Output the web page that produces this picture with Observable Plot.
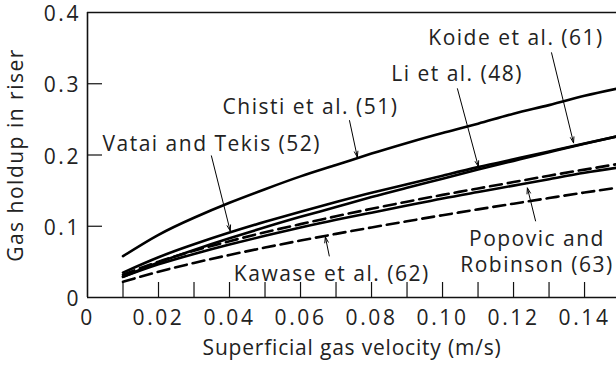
<!DOCTYPE html>
<html><head><meta charset="utf-8">
<script src="https://cdn.jsdelivr.net/npm/d3@7"></script>
<script src="https://cdn.jsdelivr.net/npm/@observablehq/plot@0.6"></script>
<style>
body{margin:0;background:#fff}
#chart svg{display:block}
#chart svg text{letter-spacing:1.5px}
#chart svg g[aria-label="x-axis label"] text{letter-spacing:0.8px}
#chart svg g[aria-label="x-axis tick label"] text,
#chart svg g[aria-label="y-axis tick label"] text{letter-spacing:2.6px}
</style>
</head><body><div id="chart"></div>
<script>
// Superficial gas velocity (m/s)
const velocity = [0.01,0.02,0.03,0.04,0.05,0.06,0.07,0.08,0.09,0.10,0.11,0.12,0.13,0.14,0.149];
// Gas holdup in riser
const chisti  = [0.058,0.088,0.112,0.133,0.152,0.170,0.186,0.202,0.217,0.231,0.244,0.258,0.270,0.283,0.293];
const li      = [0.035,0.0565,0.0747,0.0911,0.1063,0.1205,0.134,0.147,0.159,0.171,0.183,0.194,0.205,0.216,0.226];
const koide   = [0.029,0.0491,0.0668,0.0831,0.0985,0.1132,0.127,0.141,0.154,0.1668,0.1795,0.1917,0.204,0.2157,0.226];
const vatai   = [0.032,0.0503,0.0656,0.079,0.0916,0.103,0.114,0.1245,0.1345,0.144,0.153,0.162,0.171,0.1795,0.187];
const popovic = [0.029,0.0465,0.0612,0.0744,0.0866,0.0981,0.109,0.119,0.129,0.139,0.148,0.157,0.166,0.175,0.182];
const kawase  = [0.022,0.0362,0.0485,0.0597,0.0701,0.0799,0.0893,0.0983,0.107,0.1155,0.1237,0.1317,0.1396,0.1473,0.154];

const solidSeries = {chisti, li, koide, popovic};
const dashedSeries = {vatai, kawase};

// Axis ticks
const xTicks = [0.01,0.02,0.03,0.04,0.05,0.06,0.07,0.08,0.09,0.10,0.11,0.12,0.13,0.14];
const xLabels = [0,0.02,0.04,0.06,0.08,0.10,0.12,0.14];
const yTicks = [0.1,0.2,0.3];
const yLabels = [0,0.1,0.2,0.3,0.4];

// Annotation labels (data coordinates)
const labelText = ["Koide et al. (61)","Li et al. (48)","Chisti et al. (51)","Vatai and Tekis (52)","Kawase et al. (62)","Popovic and\nRobinson (63)"];
const labelX = [0.1207,0.1041,0.0628,0.0350,0.0688,0.1266];
const labelY = [0.366,0.3155,0.269,0.217,0.0344,0.0655];
// Annotation arrows: from label to curve
const arrowX1 = [0.1307,0.1042,0.0738,0.0349,0.0681,0.1262];
const arrowY1 = [0.3435,0.293,0.2483,0.1988,0.0583,0.1075];
const arrowX2 = [0.1369,0.1101,0.0760,0.0402,0.0670,0.1239];
const arrowY2 = [0.2171,0.1836,0.197,0.0935,0.085,0.1538];

const toRows = obj => Object.entries(obj).flatMap(([name, vals]) => vals.map((v,i) => ({series:name, x:velocity[i], y:v})));
const solidRows = toRows(solidSeries);
const dashedRows = toRows(dashedSeries);
const labels = labelText.map((t,i) => ({text:t, x:labelX[i], y:labelY[i]}));
const arrows = arrowX1.map((d,i) => ({x1:d, y1:arrowY1[i], x2:arrowX2[i], y2:arrowY2[i]}));

const FONT = "Open Sans";
const FS = 21;
const fmtX = d => d === 0 ? "0" : d.toFixed(2);
const fmtY = d => d === 0 ? "0" : d.toFixed(1);

const chart = Plot.plot({
  width: 616,
  height: 369,
  marginLeft: 87,
  marginRight: 0,
  marginTop: 12,
  marginBottom: 72,
  style: {fontFamily: FONT, fontSize: FS + "px", color: "#222", background: "#fff"},
  x: {domain: [0, 0.149]},
  y: {domain: [0, 0.4]},
  marks: [
    // frame lines
    Plot.ruleX([0], {stroke: "#111", strokeWidth: 1.6}),
    Plot.ruleY([0], {stroke: "#111", strokeWidth: 1.6}),
    Plot.ruleY([0.4], {stroke: "#111", strokeWidth: 1.6}),
    // inward ticks
    Plot.axisX({ticks: xTicks, tickSize: 15, dy: -15, text: null, stroke: "#111", strokeWidth: 1.2, label: null}),
    Plot.axisY({ticks: yTicks, tickSize: 15, dx: 15, text: null, stroke: "#111", strokeWidth: 1.2, label: null}),
    // tick labels
    Plot.axisX({ticks: xLabels, tickSize: 0, tickPadding: 12.5, tickFormat: fmtX, fontSize: FS, fill: "#222",
      label: "Superficial gas velocity (m/s)", labelAnchor: "center", labelArrow: "none", labelOffset: 57}),
    Plot.axisY({ticks: yLabels, tickSize: 0, tickPadding: 6.5, dy: 2, tickFormat: fmtY, fontSize: FS, fill: "#222",
      label: "Gas holdup in riser", labelAnchor: "center", labelArrow: "none", labelOffset: 79}),
    // curves
    Plot.line(solidRows, {x: "x", y: "y", z: "series", stroke: "#000", strokeWidth: 2.6, curve: "natural", clip: true}),
    Plot.line(dashedRows, {x: "x", y: "y", z: "series", stroke: "#000", strokeWidth: 2.6, curve: "natural", strokeDasharray: "12,6", clip: true}),
    // annotations
    Plot.arrow(arrows, {x1: "x1", y1: "y1", x2: "x2", y2: "y2", stroke: "#000", strokeWidth: 1, headLength: 9, headAngle: 35}),
    Plot.text(labels, {x: "x", y: "y", text: "text", fontSize: FS, fill: "#222", lineHeight: 1.24, textAnchor: "middle"})
  ]
});
document.getElementById("chart").appendChild(chart);
</script>
</body></html>
